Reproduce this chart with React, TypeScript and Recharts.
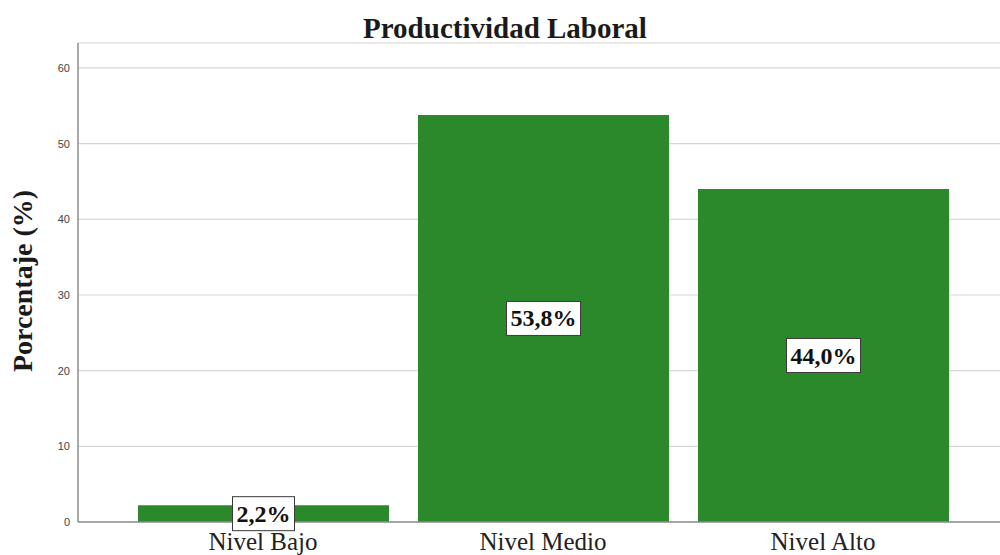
import React from 'react';
import { BarChart, Bar, XAxis, YAxis, CartesianGrid, LabelList } from 'recharts';

const categories = ['Nivel Bajo', 'Nivel Medio', 'Nivel Alto'];
const percentages = [2.2, 53.8, 44.0];
const yTicks = [0, 10, 20, 30, 40, 50, 60];

const chartTitle = 'Productividad Laboral';
const yAxisTitle = 'Porcentaje (%)';

const data = categories.map((name, i) => ({ name, value: percentages[i] }));

const BAR_COLOR = '#2b882b';
const AXIS_COLOR = '#8e8e8e';
const GRID_COLOR = '#d6d6d6';
const SERIF = '"Liberation Serif", "Times New Roman", serif';
const SANS = '"Liberation Sans", Arial, sans-serif';

const formatPct = (v: number) => v.toFixed(1).replace('.', ',') + '%';

// approximate advance widths (em) of bold Times-like glyphs
const glyphWidth = (ch: string) => {
  if (ch === '%') return 1.0;
  if (ch === ',' || ch === '.') return 0.25;
  return 0.5;
};

const BoxLabel = (props: any) => {
  const { x, y, width, height, value } = props;
  const fontSize = 24;
  const text = formatPct(Number(value));
  const textW = text.split('').reduce((s, c) => s + glyphWidth(c) * fontSize, 0);
  const boxW = textW + 8;
  const boxH = 34;
  const cx = Number(x) + Number(width) / 2;
  const cy = Number(y) + Number(height) / 2;
  return (
    <g>
      <rect
        x={cx - boxW / 2}
        y={cy - boxH / 2}
        width={boxW}
        height={boxH}
        fill="#ffffff"
        stroke="#3a3a3a"
        strokeWidth={1}
      />
      <text
        x={cx}
        y={cy + 8}
        textAnchor="middle"
        fontFamily={SERIF}
        fontWeight="bold"
        fontSize={fontSize}
        fill="#111111"
      >
        {text}
      </text>
    </g>
  );
};

export default function App() {
  return (
    <div style={{ position: 'absolute', left: 0, top: 0, width: 1000, height: 555, background: '#ffffff' }}>
      <BarChart
        width={1000}
        height={555}
        data={data}
        margin={{ top: 43, right: 0, left: 0, bottom: 0 }}
        barSize={251}
      >
        <CartesianGrid horizontal vertical={false} stroke={GRID_COLOR} strokeWidth={1.2} />
        <XAxis
          dataKey="name"
          height={33}
          padding={{ left: 45, right: 37 }}
          tickLine={false}
          axisLine={{ stroke: AXIS_COLOR, strokeWidth: 1.5 }}
          tickMargin={4}
          interval={0}
          tick={{ fontFamily: SERIF, fontSize: 25, fill: '#222222' }}
        />
        <YAxis
          width={78}
          domain={[0, 63.3]}
          ticks={yTicks}
          allowDataOverflow
          tickLine={false}
          axisLine={{ stroke: AXIS_COLOR, strokeWidth: 1.5 }}
          tick={{ fontFamily: SANS, fontSize: 11, fill: '#444444' }}
        />
        <Bar dataKey="value" fill={BAR_COLOR} isAnimationActive={false}>
          <LabelList dataKey="value" content={BoxLabel} />
        </Bar>
      </BarChart>
      <svg
        width={1000}
        height={555}
        style={{ position: 'absolute', left: 0, top: 0, pointerEvents: 'none' }}
      >
        <text
          x={505}
          y={38}
          textAnchor="middle"
          fontFamily={SERIF}
          fontWeight="bold"
          fontSize={29}
          fill="#1a1a1a"
        >
          {chartTitle}
        </text>
        <text
          x={32}
          y={281}
          transform="rotate(-90, 32, 281)"
          textAnchor="middle"
          fontFamily={SERIF}
          fontWeight="bold"
          fontSize={28}
          fill="#1a1a1a"
        >
          {yAxisTitle}
        </text>
      </svg>
    </div>
  );
}
